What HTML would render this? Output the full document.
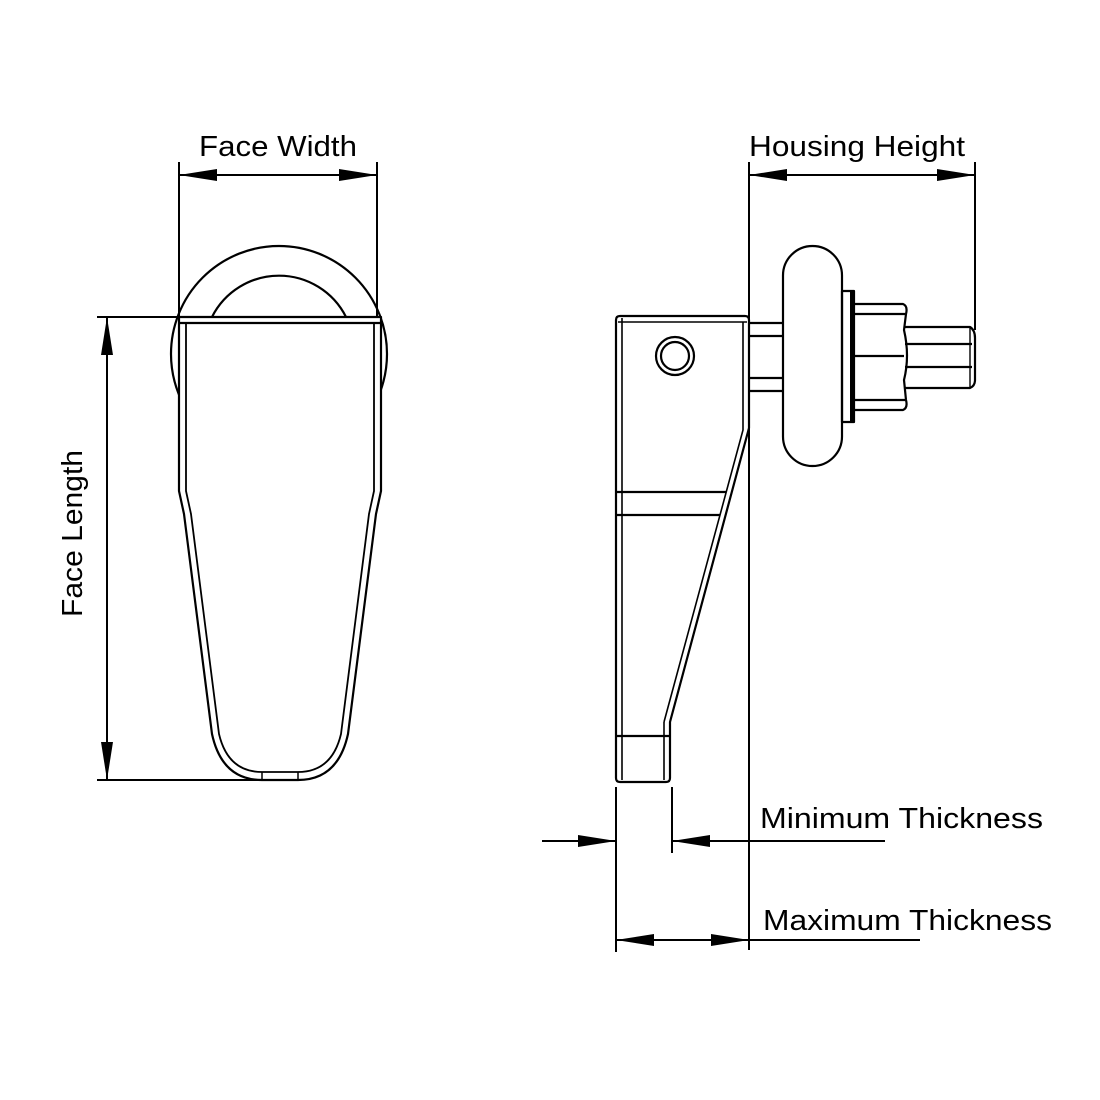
<!DOCTYPE html>
<html><head><style>body{margin:0;background:#fff}svg{display:block}</style></head><body>
<svg width="1100" height="1100" viewBox="0 0 1100 1100" xmlns="http://www.w3.org/2000/svg">
<defs>
<marker id="a" viewBox="0 0 38 12" refX="38" refY="6" markerWidth="38" markerHeight="12" markerUnits="userSpaceOnUse" orient="auto-start-reverse"><path d="M0,0 L38,6 L0,12 Z" fill="#000"/></marker>
</defs>
<g fill="none" stroke="#000" stroke-width="2.2" stroke-linejoin="round">
<circle cx="279" cy="354" r="108"/>
<path d="M212,317 A75,75 0 0 1 346,317" />
<path d="M179,317 L179,491 L184,514 L212,734 Q222,780 262,780 L298,780 Q338,780 348,734 L376,514 L381,491 L381,317 Z" fill="#fff"/>
<line x1="180" y1="323" x2="380" y2="323"/>
<path d="M186,323 L186,491 L191,514 L219,734 Q228,772 262,772 L298,772 Q332,772 341,734 L369,514 L374,491 L374,323" stroke-width="1.8"/>
<line x1="262" y1="772" x2="262" y2="780" stroke-width="1.5"/>
<line x1="298" y1="772" x2="298" y2="780" stroke-width="1.5"/>
<path d="M620,316 L745,316 Q749,316 749,320 L749,428 L670,722 L670,778 Q670,782 666,782 L620,782 Q616,782 616,778 L616,320 Q616,316 620,316 Z"/>
<line x1="622" y1="318" x2="622" y2="780" stroke-width="1.6"/>
<line x1="618" y1="322" x2="747" y2="322" stroke-width="1.6"/>
<path d="M743,322 L743,430 L664,722" stroke-width="1.6"/>
<line x1="664" y1="722" x2="664" y2="780" stroke-width="1.6"/>
<line x1="616" y1="492" x2="726" y2="492"/>
<line x1="616" y1="515" x2="720" y2="515"/>
<line x1="616" y1="736" x2="670" y2="736"/>
<circle cx="675" cy="356" r="19"/>
<circle cx="675" cy="356" r="14"/>
<line x1="749" y1="323" x2="784" y2="323"/>
<line x1="749" y1="336" x2="784" y2="336"/>
<line x1="749" y1="378" x2="784" y2="378"/>
<line x1="749" y1="391" x2="784" y2="391"/>
<rect x="783" y="246" width="59" height="220" rx="29.5"/>
<rect x="842" y="291" width="12" height="131"/>
<line x1="852" y1="291" x2="852" y2="422" stroke-width="4"/>
<path d="M855,304 L903,304 Q908,306 906,314 L904,330 Q910,356 904,380 L906,400 Q908,408 903,410 L855,410"/>
<line x1="855" y1="314" x2="905" y2="314"/>
<line x1="855" y1="356" x2="904" y2="356"/>
<line x1="855" y1="400" x2="905" y2="400"/>
<path d="M905,327 L970,327 Q975,330 975,338 L975,380 Q975,386 970,388 L905,388"/>
<line x1="905" y1="344" x2="972" y2="344"/>
<line x1="905" y1="367" x2="972" y2="367"/>
<line x1="970" y1="327" x2="970" y2="388" stroke-width="1.4"/>
</g>
<g stroke="#000" stroke-width="2" fill="none">
<line x1="179" y1="162" x2="179" y2="317"/>
<line x1="377" y1="162" x2="377" y2="317"/>
<line x1="179" y1="175" x2="377" y2="175" marker-start="url(#a)" marker-end="url(#a)"/>
<line x1="749" y1="162" x2="749" y2="950"/>
<line x1="975" y1="162" x2="975" y2="330"/>
<line x1="749" y1="175" x2="975" y2="175" marker-start="url(#a)" marker-end="url(#a)"/>
<line x1="97" y1="317" x2="179" y2="317"/>
<line x1="97" y1="780" x2="262" y2="780"/>
<line x1="107" y1="317" x2="107" y2="780" marker-start="url(#a)" marker-end="url(#a)"/>
<line x1="616" y1="787" x2="616" y2="952"/>
<line x1="672" y1="787" x2="672" y2="853"/>
<line x1="542" y1="841" x2="616" y2="841" marker-end="url(#a)"/>
<line x1="885" y1="841" x2="672" y2="841" marker-end="url(#a)"/>
<line x1="616" y1="940" x2="749" y2="940" marker-start="url(#a)" marker-end="url(#a)"/>
<line x1="749" y1="940" x2="920" y2="940"/>
</g>
<g font-family="Liberation Sans, sans-serif" font-size="29" fill="#000">
<text x="199" y="156" textLength="158" lengthAdjust="spacingAndGlyphs">Face Width</text>
<text x="749" y="156" textLength="216" lengthAdjust="spacingAndGlyphs">Housing Height</text>
<text x="760" y="828" textLength="283" lengthAdjust="spacingAndGlyphs">Minimum Thickness</text>
<text x="763" y="930" textLength="289" lengthAdjust="spacingAndGlyphs">Maximum Thickness</text>
<text transform="translate(82,617) rotate(-90)" textLength="167" lengthAdjust="spacingAndGlyphs">Face Length</text>
</g>
</svg>
</body></html>
